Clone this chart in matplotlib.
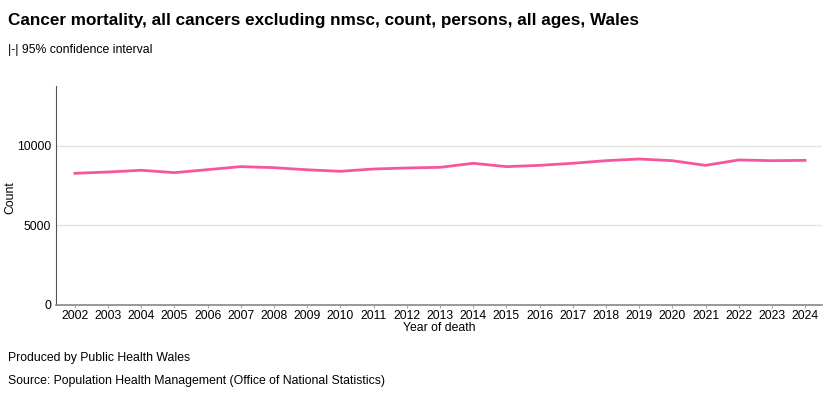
import numpy as np
import matplotlib.pyplot as plt

plt.rcParams['font.family'] = ['Liberation Sans', 'DejaVu Sans']

# data
years = list(range(2002, 2025))
deaths = [8280, 8360, 8470, 8320, 8510, 8700, 8635, 8500, 8405, 8550, 8615, 8655,
          8910, 8700, 8780, 8910, 9075, 9180, 9075, 8780, 9120, 9075, 9095]
yticks = [0, 5000, 10000]

title = "Cancer mortality, all cancers excluding nmsc, count, persons, all ages, Wales"
subtitle = "|-| 95% confidence interval"
footer1 = "Produced by Public Health Wales"
footer2 = "Source: Population Health Management (Office of National Statistics)"

fig = plt.figure(figsize=(8.28, 4.0), dpi=100)
ax = fig.add_axes([56/828, 1 - 304.7/400, (822-56)/828, (304.7-86)/400])

ax.plot(years, deaths, color='#f6579c', lw=2)

ax.set_xlim(2001.43, 2024.51)
ax.set_ylim(0, 13780)
ax.set_xticks(years)
ax.set_xticklabels([str(y) for y in years], fontsize=8.8)
ax.set_yticks(yticks)
ax.set_yticklabels([str(v) for v in yticks], fontsize=8.8)
ax.tick_params(axis='x', length=2, color='#aaaaaa', pad=1.5)
ax.tick_params(axis='y', length=0, pad=3.5)
for v in yticks[1:]:
    ax.axhline(v, color='#e3e3e3', lw=1, zorder=0)

for s in ['top', 'right']:
    ax.spines[s].set_visible(False)
ax.spines['left'].set_color('#555555')
ax.spines['bottom'].set_color('#888888')
ax.spines['bottom'].set_linewidth(1.2)

ax.set_xlabel("Year of death", fontsize=8.8, labelpad=0)
fig.text(10/828, 1 - 198/400, "Count", fontsize=8.8, rotation=90, ha='center', va='center')

fig.text(8/828, 1 - 20/400, title, fontsize=12.3, fontweight='bold', va='center')
fig.text(8/828, 1 - 50/400, subtitle, fontsize=8.8, va='center')
fig.text(8/828, 1 - 358/400, footer1, fontsize=8.8, va='center')
fig.text(8/828, 1 - 381/400, footer2, fontsize=8.8, va='center')

fig.savefig('out.png', dpi=100)
